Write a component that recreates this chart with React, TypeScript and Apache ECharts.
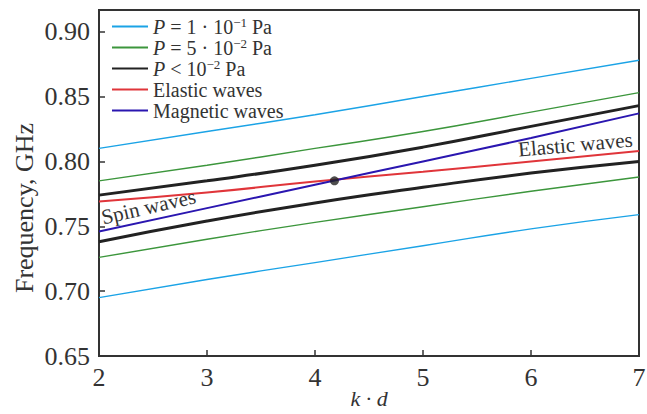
import React, { useEffect, useRef } from "react";
import * as echarts from "echarts";

const kd = [2, 3, 4, 5, 6, 7];
const p1Upper = [0.810, 0.823, 0.836, 0.850, 0.864, 0.878];
const p1Lower = [0.695, 0.709, 0.722, 0.735, 0.748, 0.759];
const p5Upper = [0.785, 0.797, 0.810, 0.823, 0.838, 0.853];
const p5Lower = [0.726, 0.740, 0.753, 0.765, 0.777, 0.788];
const p0Upper = [0.774, 0.785, 0.797, 0.811, 0.827, 0.843];
const p0Lower = [0.738, 0.754, 0.768, 0.780, 0.791, 0.800];
const elastic = [0.769, 0.776, 0.7845, 0.792, 0.800, 0.808];
const magnetic = [0.746, 0.764, 0.782, 0.800, 0.818, 0.837];
const crossing = [4.18, 0.785];
const yTicks = [0.65, 0.7, 0.75, 0.8, 0.85, 0.9];

const names = {
  p1: "P1",
  p5: "P5",
  p0: "P0",
  el: "Elastic waves",
  mag: "Magnetic waves",
};

const legendText: Record<string, string> = {
  P1: "{i|P} = 1 · 10{sup|−1} Pa",
  P5: "{i|P} = 5 · 10{sup|−2} Pa",
  P0: "{i|P} < 10{sup|−2} Pa",
  "Elastic waves": "{t|Elastic waves}",
  "Magnetic waves": "{t|Magnetic waves}",
};

const pair = (ys: number[]) => kd.map((x, i) => [x, ys[i]]);

const FONT = "Liberation Serif";
const TXT = "#333";

export default function App() {
  const ref = useRef<HTMLDivElement>(null);
  useEffect(() => {
    if (!ref.current) return;
    const chart = echarts.init(ref.current, undefined, { renderer: "svg" });
    const line = (name: string, ys: number[], color: string, width: number) => ({
      type: "line",
      name,
      data: pair(ys),
      smooth: true,
      symbol: "none",
      lineStyle: { color, width },
      itemStyle: { color },
      z: 2,
    });
    chart.setOption({
      animation: false,
      grid: {
        left: 99,
        right: 8,
        top: 10,
        bottom: 58,
        outerBoundsMode: "none",
        containLabel: false,
        show: true,
        borderColor: "#333",
        borderWidth: 2,
        backgroundColor: "transparent",
      },
      legend: {
        left: 106,
        top: 11,
        orient: "vertical",
        itemWidth: 36,
        itemHeight: 12,
        itemGap: 0,
        itemStyle: { opacity: 0 },
        data: [names.p1, names.p5, names.p0, names.el, names.mag],
        formatter: (n: string) => legendText[n] || n,
        textStyle: {
          fontFamily: FONT,
          fontSize: 20,
          color: TXT,
          lineHeight: 21,
          rich: {
            t: { fontFamily: FONT, fontSize: 20, color: TXT, lineHeight: 21 },
            i: { fontFamily: FONT, fontSize: 20, fontStyle: "italic", color: TXT, lineHeight: 21 },
            sup: {
              fontFamily: FONT,
              fontSize: 13,
              color: TXT,
              lineHeight: 14,
              verticalAlign: "top",
            },
          },
        },
      },
      xAxis: {
        type: "value",
        min: 2,
        max: 7,
        interval: 1,
        name: "k · d",
        nameLocation: "middle",
        nameGap: 31,
        nameMoveOverlap: false,
        nameTextStyle: { fontFamily: FONT, fontSize: 22, fontStyle: "italic", color: TXT },
        axisLine: { show: true, lineStyle: { color: "#333", width: 2 } },
        axisTick: { show: true, inside: true, length: 6, lineStyle: { color: "#333", width: 1.5 } },
        axisLabel: { fontFamily: FONT, fontSize: 26, color: TXT, margin: 8 },
        splitLine: { show: false },
      },
      yAxis: {
        type: "value",
        min: 0.65,
        max: 0.9167,
        interval: 0.05,
        name: "Frequency, GHz",
        nameLocation: "middle",
        nameGap: 62,
        nameMoveOverlap: false,
        nameTextStyle: {
          fontFamily: FONT,
          fontSize: 26,
          color: TXT,
          padding: [0, 50, 0, 0],
        },
        axisLine: { show: true, lineStyle: { color: "#333", width: 2 } },
        axisTick: { show: true, inside: true, length: 6, lineStyle: { color: "#333", width: 1.5 } },
        axisLabel: {
          fontFamily: FONT,
          fontSize: 26,
          color: TXT,
          margin: 9,
          showMaxLabel: false,
          formatter: (v: number) =>
            yTicks.some((t) => Math.abs(t - v) < 1e-6) ? v.toFixed(2) : "",
        },
        splitLine: { show: false },
      },
      series: [
        line(names.p1, p1Upper, "#1ba3e6", 1.4),
        line(names.p1, p1Lower, "#1ba3e6", 1.4),
        line(names.p5, p5Upper, "#3c963c", 1.4),
        line(names.p5, p5Lower, "#3c963c", 1.4),
        line(names.p0, p0Upper, "#222222", 3),
        line(names.p0, p0Lower, "#222222", 3),
        line(names.el, elastic, "#e0353a", 2),
        line(names.mag, magnetic, "#2a16b0", 2),
        {
          type: "scatter",
          name: "crossing",
          data: [crossing],
          symbolSize: 9,
          itemStyle: { color: "#222" },
          z: 5,
        },
      ],
      graphic: [
        {
          type: "text",
          x: 104,
          y: 228,
          rotation: (13 * Math.PI) / 180,
          style: {
            text: "Spin waves",
            fontFamily: FONT,
            fontSize: 21,
            fill: TXT,
            textVerticalAlign: "bottom",
          },
          z: 10,
        },
        {
          type: "text",
          x: 519,
          y: 160,
          rotation: (5 * Math.PI) / 180,
          style: {
            text: "Elastic waves",
            fontFamily: FONT,
            fontSize: 21,
            fill: TXT,
            textVerticalAlign: "bottom",
          },
          z: 10,
        },
      ],
    });
    return () => chart.dispose();
  }, []);
  return <div ref={ref} style={{ width: 647, height: 414, position: "absolute", left: 0, top: 0 }} />;
}
